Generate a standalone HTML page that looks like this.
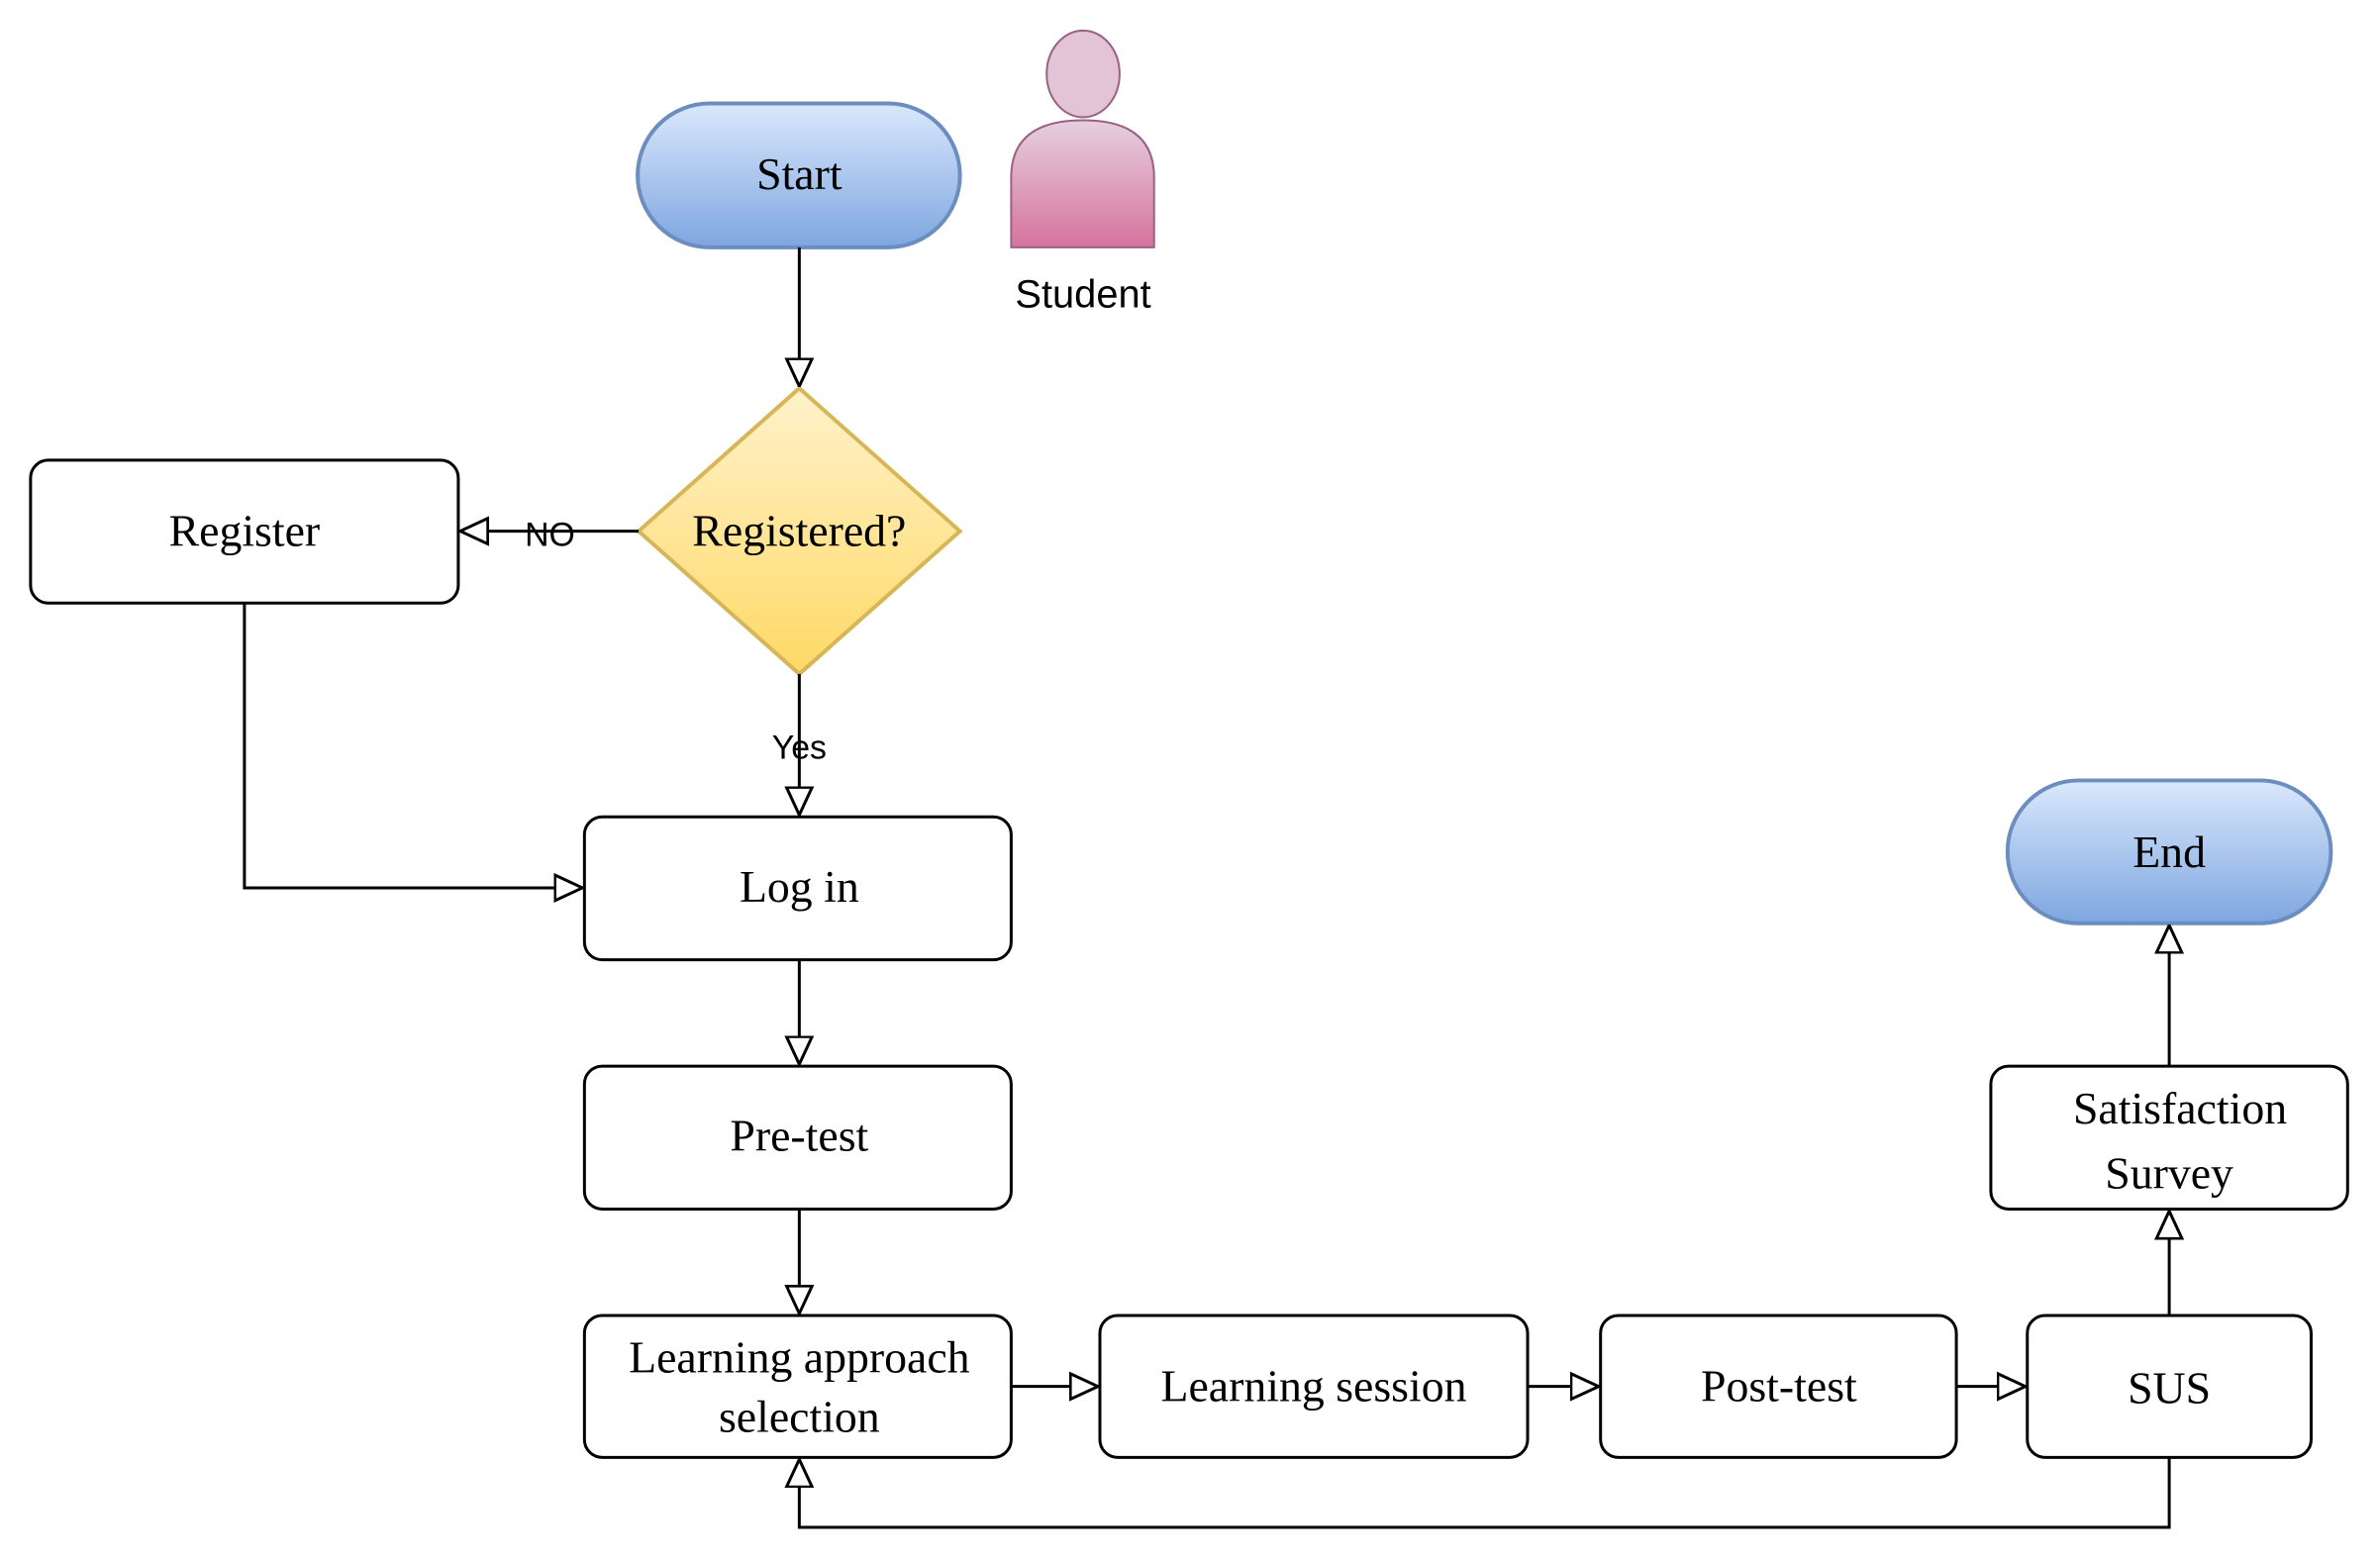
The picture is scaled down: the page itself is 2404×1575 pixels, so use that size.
<!DOCTYPE html>
<html><head><meta charset="utf-8"><style>html,body{margin:0;padding:0;background:#fff}svg{display:block}</style></head>
<body>
<svg width="2404" height="1575" viewBox="0 0 2404 1575" xmlns="http://www.w3.org/2000/svg">
<defs>
<linearGradient id="blue" x1="0" y1="0" x2="0" y2="1"><stop offset="0" stop-color="#dae8fc"/><stop offset="1" stop-color="#7ea6e0"/></linearGradient>
<linearGradient id="yel" x1="0" y1="0" x2="0" y2="1"><stop offset="0" stop-color="#fff2cc"/><stop offset="1" stop-color="#ffd966"/></linearGradient>
<linearGradient id="pink" x1="0" y1="0" x2="0" y2="1"><stop offset="0" stop-color="#e6d0de"/><stop offset="1" stop-color="#d5739d"/></linearGradient>
<marker id="ar" viewBox="0 0 30 30" refX="29" refY="15" markerWidth="30" markerHeight="30" markerUnits="userSpaceOnUse" orient="auto"><path d="M1,2 L29,15 L1,28 Z" fill="#fff" stroke="#000" stroke-width="3"/></marker>
</defs>
<g transform="scale(0.9955)" font-family="'Liberation Serif',serif" font-size="46" text-anchor="middle" fill="#000">
<rect x="647" y="105" width="327" height="146" rx="73" fill="url(#blue)" stroke="#6c8ebf" stroke-width="4"/>
<text x="811" y="192">Start</text>
<path d="M1026,251 L1026,180 Q1026,122 1099,122 Q1171,122 1171,180 L1171,251 Z" fill="url(#pink)" stroke="#996185" stroke-width="2"/>
<ellipse cx="1099" cy="75" rx="37" ry="44" fill="#e2c4d4" stroke="#996185" stroke-width="2"/>
<text x="1099" y="312" font-family="'Liberation Sans',sans-serif" font-size="40">Student</text>
<polygon points="811,394 974,539 811,684 648,539" fill="url(#yel)" stroke="#d6b656" stroke-width="4"/>
<text x="811" y="554">Registered?</text>
<g fill="#fff" stroke="#000" stroke-width="3">
<rect x="31" y="467" width="434" height="145" rx="18"/>
<rect x="593" y="829" width="433" height="145" rx="18"/>
<rect x="593" y="1082" width="433" height="145" rx="18"/>
<rect x="593" y="1335" width="433" height="144" rx="18"/>
<rect x="1116" y="1335" width="434" height="144" rx="18"/>
<rect x="1624" y="1335" width="361" height="144" rx="18"/>
<rect x="2057" y="1335" width="288" height="144" rx="18"/>
<rect x="2020" y="1082" width="362" height="145" rx="18"/>
</g>
<text x="248" y="554">Register</text>
<text x="811" y="915">Log in</text>
<text x="811" y="1168">Pre-test</text>
<text x="811" y="1393">Learning approach</text>
<text x="811" y="1453">selection</text>
<text x="1333" y="1422">Learning session</text>
<text x="1805" y="1422">Post-test</text>
<text x="2201" y="1424">SUS</text>
<text x="2212" y="1140">Satisfaction</text>
<text x="2201" y="1206">Survey</text>
<rect x="2037" y="792" width="328" height="145" rx="72" fill="url(#blue)" stroke="#6c8ebf" stroke-width="4"/>
<text x="2201" y="880">End</text>
<g stroke="#000" stroke-width="3" fill="none" marker-end="url(#ar)">
<path d="M811,251 L811,392"/>
<path d="M648,539 L467,539"/>
<path d="M811,684 L811,827"/>
<path d="M248,612 L248,901 L591,901"/>
<path d="M811,974 L811,1080"/>
<path d="M811,1227 L811,1333"/>
<path d="M1026,1407 L1114,1407"/>
<path d="M1550,1407 L1622,1407"/>
<path d="M1985,1407 L2055,1407"/>
<path d="M2201,1335 L2201,1229"/>
<path d="M2201,1082 L2201,939"/>
<path d="M2201,1479 L2201,1550 L811,1550 L811,1481"/>
</g>
<text x="558" y="554" font-family="'Liberation Sans',sans-serif" font-size="34">NO</text>
<text x="811" y="770" font-family="'Liberation Sans',sans-serif" font-size="34">Yes</text>
</g>
</svg>
</body></html>
